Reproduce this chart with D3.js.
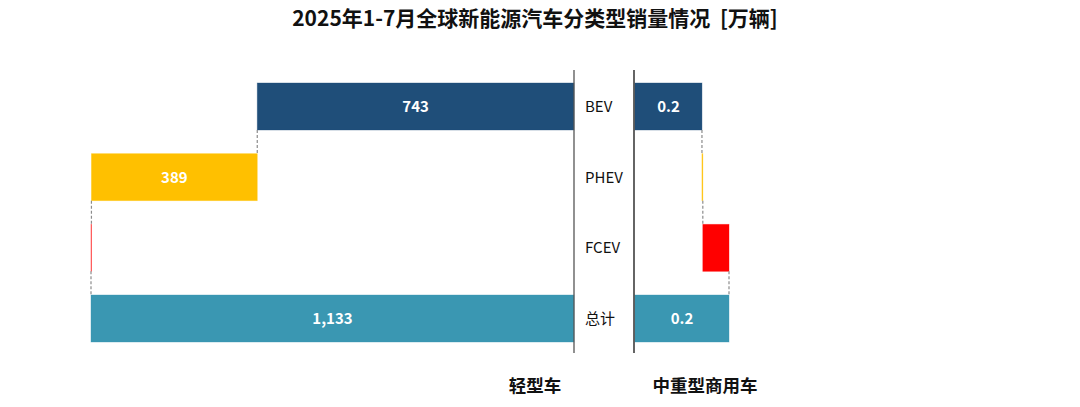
<!DOCTYPE html>
<html><head><meta charset="utf-8">
<script src="https://cdn.jsdelivr.net/npm/d3@7"></script>
<style>body{margin:0;background:#fff}svg{display:block}</style>
</head><body>
<svg id="c" width="1080" height="407"></svg>
<script>
const categories = ["BEV", "PHEV", "FCEV", "总计"];
const lightValues = [743, 389, 1, 1133];
const commercialValues = [0.156, 0.002, 0.061, 0.219];
const lightLabels = ["743", "389", "", "1,133"];
const commercialLabels = ["0.2", "", "", "0.2"];
const colors = ["#1F4E79", "#FFC000", "#FF0000", "#3A97B2"];
const title = "2025年1-7月全球新能源汽车分类型销量情况\u00a0\u00a0[万辆]";
const groupNames = ["轻型车", "中重型商用车"];

const svg = d3.select("#c");
const font = "'Noto Sans CJK SC','Noto Sans',sans-serif";

const y = d3.scaleBand().domain(categories).range([83, 342]).paddingInner(0.335).paddingOuter(0);
const xL = d3.scaleLinear().domain([0, 1133]).range([574, 91]);
const xR = d3.scaleLinear().domain([0, 0.219]).range([635, 729]);

function waterfall(vals) {
  let cum = 0;
  return vals.map((v, i) => {
    if (i === vals.length - 1) return {s: 0, e: v};
    const o = {s: cum, e: cum + v}; cum += v; return o;
  });
}

function drawPanel(vals, labels, x) {
  const w = waterfall(vals);
  const g = svg.append("g");
  g.selectAll("rect").data(w).join("rect")
    .attr("x", d => Math.min(x(d.s), x(d.e)))
    .attr("width", d => Math.abs(x(d.e) - x(d.s)))
    .attr("y", (d, i) => y(categories[i]))
    .attr("height", y.bandwidth())
    .attr("fill", (d, i) => colors[i])
    .attr("stroke", (d, i) => colors[i])
    .attr("stroke-opacity", 0.45)
    .attr("stroke-width", 0.8);
  // connectors
  for (let i = 0; i < w.length - 1; i++) {
    const xv = x(w[i].e);
    g.append("line")
      .attr("x1", xv).attr("x2", xv)
      .attr("y1", y(categories[i]) + y.bandwidth())
      .attr("y2", y(categories[i + 1]))
      .attr("stroke", "#8c8c8c").attr("stroke-width", 1.2)
      .attr("stroke-dasharray", "3,2");
  }
  g.selectAll("text").data(w).join("text")
    .attr("x", d => (x(d.s) + x(d.e)) / 2)
    .attr("y", (d, i) => y(categories[i]) + y.bandwidth() / 2)
    .attr("dy", "0.36em")
    .attr("text-anchor", "middle")
    .attr("fill", "#fff").attr("font-weight", "bold")
    .attr("font-size", 15).attr("font-family", font)
    .text((d, i) => labels[i]);
}

drawPanel(lightValues, lightLabels, xL);
drawPanel(commercialValues, commercialLabels, xR);

// axis lines
svg.append("line").attr("x1", 574).attr("x2", 574).attr("y1", 70).attr("y2", 353)
  .attr("stroke", "#555").attr("stroke-width", 1.3);
svg.append("line").attr("x1", 634).attr("x2", 634).attr("y1", 70).attr("y2", 353)
  .attr("stroke", "#111").attr("stroke-width", 1.3);

// category labels
svg.selectAll("text.cat").data(categories).join("text").attr("class", "cat")
  .attr("x", 585)
  .attr("y", d => y(d) + y.bandwidth() / 2)
  .attr("dy", "0.36em")
  .attr("font-size", 15).attr("font-family", font).attr("fill", "#111")
  .text(d => d);

svg.append("text").attr("x", 535).attr("y", 26).attr("text-anchor", "middle")
  .attr("font-size", 21).attr("font-weight", "bold").attr("font-family", font).attr("fill", "#111")
  .text(title);

svg.append("text").attr("x", 535).attr("y", 392).attr("text-anchor", "middle")
  .attr("font-size", 17.5).attr("font-weight", "bold").attr("font-family", font).attr("fill", "#111")
  .text(groupNames[0]);
svg.append("text").attr("x", 705).attr("y", 392).attr("text-anchor", "middle")
  .attr("font-size", 17.5).attr("font-weight", "bold").attr("font-family", font).attr("fill", "#111")
  .text(groupNames[1]);
</script>
</body></html>
